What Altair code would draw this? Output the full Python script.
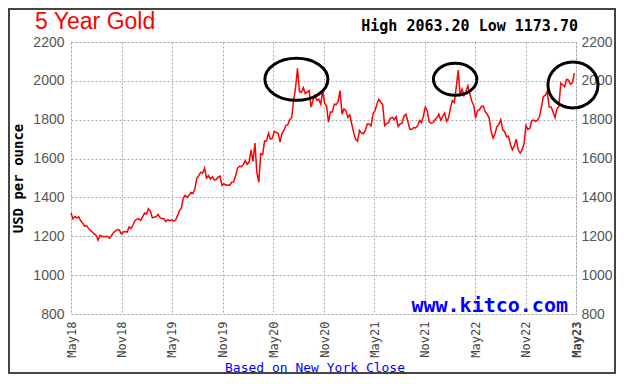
import altair as alt
import pandas as pd

# Weekly (Friday) gold closes, USD/oz
p2018 = [1320, 1290, 1302,
         1295, 1300, 1280, 1268, 1252,
         1255, 1242, 1230, 1222,
         1212, 1205, 1180, 1205, 1200,
         1198, 1200, 1198, 1190,
         1205, 1220, 1228, 1235,
         1232, 1212, 1222, 1225, 1222,
         1248, 1240, 1258, 1280]
p2019 = [1288, 1290, 1282, 1300,
         1320, 1315, 1342, 1330,
         1295, 1298, 1302, 1312, 1296,
         1292, 1290, 1276, 1286,
         1280, 1285, 1278, 1284, 1305,
         1332, 1345, 1398, 1410,
         1400, 1412, 1425, 1420,
         1445, 1500, 1512, 1530, 1525,
         1550, 1500, 1512, 1495,
         1505, 1490, 1492, 1505,
         1510, 1462, 1470, 1462, 1465,
         1462, 1478, 1480, 1510]
p2020 = [1550, 1560, 1558, 1570, 1589,
         1570, 1582, 1645, 1585,
         1680, 1530, 1478, 1625,
         1620, 1690, 1690, 1730,
         1700, 1705, 1740, 1735, 1730,
         1685, 1730, 1745, 1770,
         1775, 1800, 1810, 1900, 1965,
         2065, 1945, 1940, 1965,
         1935, 1942, 1950, 1865,
         1900, 1925, 1900, 1905, 1880,
         1950, 1885, 1870, 1788,
         1840, 1840, 1880, 1878]
p2021 = [1895, 1950, 1828, 1855, 1848,
         1812, 1825, 1778, 1735,
         1700, 1690, 1745, 1732,
         1728, 1745, 1778, 1778, 1768,
         1832, 1845, 1880, 1905,
         1890, 1878, 1770, 1780,
         1785, 1808, 1812, 1800, 1815,
         1765, 1778, 1782, 1818,
         1828, 1790, 1752, 1750,
         1760, 1758, 1768, 1795, 1785,
         1818, 1865, 1848, 1790,
         1782, 1785, 1800, 1810, 1829]
p2022 = [1797, 1818, 1835, 1792,
         1808, 1860, 1898, 1889,
         1966, 2055, 1925, 1958,
         1925, 1945, 1975, 1932, 1896,
         1875, 1810, 1845, 1852,
         1868, 1870, 1840, 1828,
         1810, 1742, 1705, 1728, 1765,
         1775, 1800, 1748, 1738,
         1712, 1715, 1672, 1645, 1665,
         1700, 1645, 1628, 1645,
         1675, 1770, 1750, 1755,
         1795, 1798, 1792, 1798, 1815]
p2023 = [1865, 1920, 1925, 1945,
         1865, 1865, 1840, 1810,
         1855, 1868, 1988, 1980, 1970,
         2008, 2004, 1983, 1990,
         2040]

prices = p2018 + p2019 + p2020 + p2021 + p2022 + p2023
dates = pd.date_range("2018-05-11", periods=len(prices), freq="W-FRI")
df = pd.DataFrame({"date": dates, "price": prices})

y_ticks = [800, 1000, 1200, 1400, 1600, 1800, 2000, 2200]
x_tick_dates = [(2018, 5), (2018, 11), (2019, 5), (2019, 11), (2020, 5), (2020, 11),
                (2021, 5), (2021, 11), (2022, 5), (2022, 11), (2023, 5)]

# annotation ellipses: centre date, centre price
circle_dates = ["2020-08-03", "2022-02-28", "2023-04-30"]
circle_prices = [2008, 2008, 1979]

title_text = "5 Year Gold"
hilo_text = "High 2063.20 Low 1173.70"
site_text = "www.kitco.com"
note_text = "Based on New York Close"

W, H = 505, 272
GRID = "#aaaaaa"

x_scale = alt.Scale(domain=[alt.DateTime(year=2018, month=5, date=11),
                            alt.DateTime(year=2023, month=5, date=11)])
y_scale = alt.Scale(domain=[800, 2200])

x_axis = alt.Axis(
    values=[alt.DateTime(year=y, month=m, date=11) for y, m in x_tick_dates],
    format="%b%y", labelAngle=-90, labelFont="DejaVu Sans Mono", labelFontSize=12,
    labelColor="#444444", labelPadding=7, tickSize=0, domain=False,
    grid=True, gridColor=GRID, gridDash=[2, 2], labelOverlap=False, labelFlush=False,
    labelFontWeight=alt.expr("datum.label == 'May23' ? 'bold' : 'normal'"), title=""
)
y_axis_left = alt.Axis(
    values=y_ticks, format="d", orient="left", labelFont="Liberation Sans", labelFontSize=14,
    labelColor="#555555", labelPadding=7, tickSize=0, domain=False, grid=True,
    gridColor=GRID, gridDash=[2, 2], title="USD per ounce", titleFont="DejaVu Sans Mono",
    titleFontWeight="bold", titleFontSize=14, titleColor="#000000", titleX=-53,
    titleY=H / 2, titleAngle=270, titleAlign="center", titleBaseline="middle"
)
y_axis_right = alt.Axis(
    values=y_ticks, format="d", orient="right", labelFont="Liberation Sans", labelFontSize=14,
    labelColor="#555555", labelPadding=5, tickSize=0, domain=False, grid=False, title=""
)

X = alt.X("date:T", scale=x_scale, axis=x_axis)

line = alt.Chart(df).mark_line(color="#ff0000", strokeWidth=1.5).encode(
    x=X, y=alt.Y("price:Q", scale=y_scale, axis=y_axis_left),
)
right = alt.Chart(df).mark_line(opacity=0).encode(
    x=X, y=alt.Y("price:Q", scale=y_scale, axis=y_axis_right),
)

def ellipse(i, ry, size):
    path = f"M -1 0 A 1 {ry} 0 1 0 1 0 A 1 {ry} 0 1 0 -1 0 Z"
    d = pd.DataFrame({"date": [pd.Timestamp(circle_dates[i])], "price": [circle_prices[i]]})
    return alt.Chart(d).mark_point(shape=path, size=size, filled=False, stroke="#000000",
                                   strokeWidth=3, opacity=1).encode(
        x=X, y=alt.Y("price:Q", scale=y_scale, axis=None))

e1 = ellipse(0, 0.667, 3969)
e2 = ellipse(1, 0.737, 1884)
e3 = ellipse(2, 0.92, 2500)

def label(text, x, y, **kw):
    return alt.Chart(pd.DataFrame({"t": [text]})).mark_text(**kw).encode(
        text="t:N", x=alt.value(x), y=alt.value(y))

t_title = label(title_text, -36, -13, align="left", baseline="alphabetic",
                font="Liberation Sans", fontSize=23, color="#ff0000")
t_hilo = label(hilo_text, 507, -11, align="right", baseline="alphabetic",
               font="DejaVu Sans Mono", fontSize=15, fontWeight="bold", color="#000000")
t_site = label(site_text, 497, 270, align="right", baseline="alphabetic",
               font="DejaVu Sans Mono", fontSize=20, fontWeight="bold", color="#0000ff")
t_note = label(note_text, 244, 330, align="center", baseline="alphabetic",
               font="DejaVu Sans Mono", fontSize=13, color="#0000ff")

frame = alt.Chart(pd.DataFrame({"k": [0]})).mark_rect(
    fill="transparent", stroke="#444444", strokeWidth=2).encode(
    x=alt.value(-62), x2=alt.value(W + 39), y=alt.value(-33), y2=alt.value(H + 59))

chart = alt.layer(frame, line, right, e1, e2, e3, t_title, t_hilo, t_site, t_note).resolve_axis(
    y="independent").properties(
    width=W, height=H,
    autosize=alt.AutoSizeParams(type="none"),
    padding={"left": 63, "top": 34, "right": 40, "bottom": 60},
    background="#ffffff",
).configure_view(stroke=GRID, strokeDash=[2, 2])

chart.save("out.html", embed_options={"renderer": "svg", "actions": False})
